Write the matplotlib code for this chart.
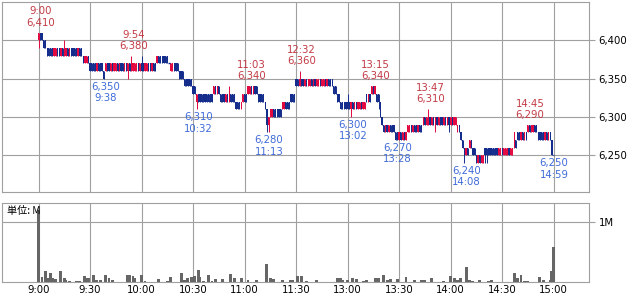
import matplotlib
matplotlib.use("Agg")
import matplotlib.pyplot as plt
import numpy as np

# ---------------- data (1-minute candles, 9:00-11:29 and 12:30-15:00) ----------------
morning_open = [
    6400, 6410, 6410, 6400, 6400, 6390, 6390, 6390, 6390, 6380,
    6380, 6390, 6390, 6380, 6390, 6380, 6380, 6390, 6380, 6390,
    6390, 6390, 6390, 6380, 6390, 6390, 6380, 6370, 6370, 6380,
    6370, 6370, 6370, 6370, 6360, 6370, 6370, 6370, 6360, 6360,
    6370, 6370, 6360, 6370, 6360, 6360, 6370, 6360, 6370, 6370,
    6360, 6370, 6360, 6370, 6360, 6360, 6360, 6360, 6370, 6360,
    6370, 6370, 6360, 6360, 6370, 6370, 6360, 6370, 6370, 6370,
    6380, 6380, 6380, 6380, 6380, 6380, 6370, 6360, 6360, 6370,
    6370, 6370, 6360, 6360, 6360, 6350, 6350, 6350, 6350, 6350,
    6340, 6340, 6320, 6330, 6330, 6330, 6330, 6330, 6330, 6330,
    6330, 6330, 6330, 6340, 6330, 6340, 6330, 6330, 6330, 6320,
    6330, 6320, 6330, 6330, 6330, 6320, 6320, 6320, 6310, 6320,
    6330, 6330, 6330, 6330, 6340, 6330, 6340, 6340, 6330, 6330,
    6330, 6330, 6320, 6310, 6290, 6300, 6300, 6310, 6310, 6310,
    6310, 6310, 6310, 6310, 6320, 6320, 6320, 6330, 6330, 6330,
]
morning_close = [
    6410, 6400, 6400, 6390, 6390, 6380, 6380, 6380, 6380, 6390,
    6390, 6380, 6380, 6390, 6380, 6390, 6390, 6380, 6390, 6380,
    6380, 6380, 6380, 6390, 6380, 6380, 6370, 6380, 6380, 6370,
    6360, 6360, 6360, 6360, 6370, 6360, 6360, 6360, 6350, 6370,
    6360, 6360, 6370, 6360, 6370, 6370, 6360, 6370, 6360, 6360,
    6370, 6360, 6370, 6360, 6370, 6370, 6370, 6370, 6360, 6370,
    6360, 6360, 6370, 6370, 6360, 6360, 6370, 6360, 6360, 6380,
    6370, 6370, 6370, 6370, 6370, 6370, 6370, 6370, 6370, 6360,
    6360, 6360, 6350, 6350, 6350, 6340, 6340, 6340, 6340, 6340,
    6330, 6330, 6330, 6320, 6320, 6320, 6320, 6320, 6320, 6320,
    6320, 6320, 6340, 6330, 6340, 6330, 6320, 6320, 6320, 6330,
    6320, 6330, 6320, 6320, 6320, 6310, 6310, 6310, 6320, 6330,
    6320, 6320, 6340, 6340, 6330, 6340, 6330, 6330, 6320, 6320,
    6320, 6320, 6310, 6290, 6300, 6310, 6310, 6300, 6300, 6300,
    6300, 6300, 6320, 6320, 6310, 6310, 6310, 6320, 6320, 6320,
]
afternoon_open = [
    6350, 6350, 6340, 6350, 6350, 6340, 6350, 6340, 6340, 6350,
    6340, 6350, 6340, 6340, 6350, 6340, 6340, 6350, 6340, 6350,
    6350, 6350, 6340, 6340, 6330, 6330, 6320, 6320, 6320, 6320,
    6320, 6320, 6310, 6320, 6310, 6320, 6310, 6310, 6320, 6310,
    6310, 6330, 6320, 6330, 6330, 6340, 6330, 6330, 6330, 6320,
    6300, 6290, 6280, 6290, 6280, 6290, 6290, 6290, 6280, 6280,
    6270, 6280, 6270, 6280, 6270, 6280, 6280, 6290, 6280, 6290,
    6290, 6280, 6290, 6290, 6290, 6300, 6290, 6290, 6300, 6290,
    6300, 6290, 6300, 6290, 6300, 6300, 6290, 6300, 6290, 6300,
    6290, 6300, 6290, 6290, 6280, 6290, 6280, 6270, 6260, 6250,
    6260, 6260, 6270, 6260, 6260, 6250, 6240, 6250, 6240, 6240,
    6260, 6260, 6260, 6260, 6260, 6260, 6260, 6260, 6250, 6250,
    6260, 6250, 6250, 6250, 6260, 6250, 6250, 6260, 6270, 6280,
    6280, 6270, 6280, 6270, 6280, 6280, 6290, 6280, 6280, 6290,
    6290, 6280, 6280, 6280, 6280, 6270, 6280, 6270, 6280, 6270, 6250,
]
afternoon_close = [
    6340, 6340, 6350, 6340, 6340, 6350, 6340, 6350, 6350, 6340,
    6350, 6340, 6350, 6350, 6340, 6350, 6350, 6340, 6350, 6340,
    6340, 6340, 6330, 6330, 6320, 6320, 6310, 6310, 6310, 6310,
    6310, 6310, 6320, 6310, 6320, 6310, 6320, 6320, 6310, 6320,
    6320, 6320, 6330, 6320, 6340, 6330, 6340, 6320, 6320, 6300,
    6290, 6280, 6290, 6280, 6290, 6280, 6280, 6280, 6270, 6270,
    6280, 6270, 6280, 6270, 6280, 6290, 6290, 6280, 6290, 6280,
    6280, 6290, 6280, 6280, 6300, 6290, 6300, 6300, 6290, 6300,
    6290, 6300, 6290, 6300, 6290, 6290, 6300, 6290, 6300, 6290,
    6300, 6290, 6300, 6300, 6290, 6280, 6270, 6260, 6250, 6260,
    6250, 6270, 6260, 6250, 6250, 6240, 6250, 6240, 6250, 6250,
    6250, 6250, 6250, 6250, 6250, 6250, 6250, 6250, 6260, 6260,
    6250, 6260, 6260, 6260, 6250, 6260, 6260, 6280, 6260, 6270,
    6270, 6280, 6270, 6280, 6270, 6290, 6280, 6290, 6290, 6280,
    6280, 6270, 6270, 6270, 6270, 6280, 6270, 6280, 6270, 6250, 6250,
]
# extra wick extremes (candle index -> price)
wick_high_idx = [0, 15, 54, 60, 111, 152, 180, 227, 285]
wick_high_val = [6410, 6400, 6380, 6380, 6340, 6360, 6330, 6310, 6290]
wick_low_idx = [0, 38, 52, 92, 133, 134, 182, 198, 208, 231, 239, 248, 260, 261]
wick_low_val = [6390, 6350, 6350, 6310, 6280, 6280, 6300, 6310, 6270, 6280, 6280, 6240, 6240, 6240]

# volume (millions of shares) at candle index
vol_idx = [0, 2, 4, 5, 7, 8, 10, 13, 15, 16, 18, 22, 24, 27, 28, 29, 32, 34, 36, 39,
           41, 43, 52, 53, 55, 56, 60, 62, 70, 75, 77, 83, 85, 87, 89, 91, 93, 94, 96, 99,
           101, 103, 107, 112, 114, 118, 122, 127, 133, 135, 137, 142, 147, 148, 151, 153, 156, 162, 174, 176,
           177, 180, 183, 185, 189, 191, 196, 198, 201, 203, 205, 209, 214, 219, 223, 225, 229, 236, 240, 242,
           244, 246, 249, 251, 253, 257, 262, 264, 277, 279, 281, 283, 285, 292, 294, 298, 299, 300]
vol_val = [1.20, 0.09, 0.19, 0.07, 0.16, 0.08, 0.05, 0.19, 0.07, 0.04, 0.02, 0.02, 0.02, 0.10, 0.07, 0.08, 0.12, 0.04, 0.04, 0.12,
           0.08, 0.04, 0.12, 0.12, 0.10, 0.08, 0.12, 0.02, 0.06, 0.03, 0.09, 0.16, 0.04, 0.08, 0.09, 0.11, 0.20, 0.09, 0.02, 0.12,
           0.02, 0.05, 0.05, 0.14, 0.07, 0.08, 0.04, 0.04, 0.31, 0.07, 0.06, 0.04, 0.04, 0.04, 0.11, 0.11, 0.03, 0.04, 0.08, 0.08,
           0.04, 0.04, 0.07, 0.05, 0.02, 0.04, 0.07, 0.08, 0.12, 0.04, 0.05, 0.06, 0.09, 0.04, 0.04, 0.04, 0.08, 0.02, 0.10, 0.07,
           0.04, 0.08, 0.26, 0.04, 0.03, 0.04, 0.03, 0.04, 0.15, 0.08, 0.12, 0.02, 0.02, 0.09, 0.04, 0.04, 0.19, 0.59]

high_labels = [("9:00", 0, 6410), ("9:54", 54, 6380), ("11:03", 123, 6340), ("12:32", 152, 6360),
               ("13:15", 195, 6340), ("13:47", 227, 6310), ("14:45", 285, 6290)]
low_labels = [("9:38", 38, 6350), ("10:32", 92, 6310), ("11:13", 133, 6280), ("13:02", 182, 6300),
              ("13:28", 208, 6270), ("14:08", 248, 6240), ("14:59", 299, 6250)]

xtick_pos = [0, 30, 60, 90, 120, 150, 180, 210, 240, 270, 300]
xtick_labels = ["9:00", "9:30", "10:00", "10:30", "11:00", "11:30", "13:00", "13:30", "14:00", "14:30", "15:00"]
price_ticks = [6250, 6300, 6350, 6400]
vol_ticks = [1.0]
vol_tick_labels = ["1M"]
unit_text = "単位: M"

# ---------------- style ----------------
RED = "#e3083f"
NAVY = "#142d8c"
RED_TXT = "#c23a44"
BLUE_TXT = "#3f6bd8"
GRID = "#a0a0a0"
FS = 7.3

W, H = 634, 297
fig = plt.figure(figsize=(W / 100, H / 100), dpi=100)
fig.patch.set_facecolor("white")

def px_axes(x0, y0, x1, y1):
    return fig.add_axes([x0 / W, 1 - y1 / H, (x1 - x0) / W, (y1 - y0) / H])

ax1 = px_axes(2, 2, 589, 192.3)
ax2 = px_axes(2, 203.3, 589, 282.3)

o = np.array(morning_open + afternoon_open, dtype=float)
c = np.array(morning_close + afternoon_close, dtype=float)
x = np.arange(len(o))
hi = np.maximum(o, c)
lo = np.minimum(o, c)
hi[wick_high_idx] = np.maximum(hi[wick_high_idx], wick_high_val)
lo[wick_low_idx] = np.minimum(lo[wick_low_idx], wick_low_val)

up = c > o
dn = c < o
dj = c == o
cols = np.where(up, RED, NAVY)

for ax in (ax1, ax2):
    ax.set_xlim(-21.3, 320.6)
    ax.set_xticks(xtick_pos)
    ax.grid(True, axis="x", color=GRID, lw=0.8)
    ax.set_axisbelow(True)
    for s in ax.spines.values():
        s.set_color(GRID)
        s.set_linewidth(0.8)
    ax.tick_params(axis="x", length=0, labelsize=FS, pad=2)
    ax.yaxis.tick_right()
    ax.tick_params(axis="y", length=4.5, color=GRID, labelsize=FS, pad=2.5, width=0.8)

# price panel
ax1.set_ylim(6202, 6450)
ax1.set_yticks(price_ticks)
ax1.set_yticklabels([f"{v:,}" for v in price_ticks])
ax1.grid(True, axis="y", color=GRID, lw=0.8)
ax1.tick_params(axis="x", labelbottom=False)

ax1.vlines(x, lo, hi, colors=cols, lw=0.7, zorder=3)
ax1.bar(x[up], (c - o)[up], bottom=o[up], width=0.72, color=RED, lw=0, zorder=4)
ax1.bar(x[dn], (c - o)[dn], bottom=o[dn], width=0.72, color=NAVY, lw=0, zorder=4)
ax1.hlines(c[dj], x[dj] - 0.45, x[dj] + 0.45, colors=NAVY, lw=1.0, zorder=4)

for t_lbl, i, p in high_labels:
    ax1.annotate(f"{t_lbl}\n{p:,}", xy=(i, p), xytext=(2, 5), textcoords="offset pixels",
                 ha="center", va="bottom", color=RED_TXT, fontsize=FS, linespacing=1.15,
                 annotation_clip=False)
for t_lbl, i, p in low_labels:
    ax1.annotate(f"{p:,}\n{t_lbl}", xy=(i, p), xytext=(2, -3), textcoords="offset pixels",
                 ha="center", va="top", color=BLUE_TXT, fontsize=FS, linespacing=1.15,
                 annotation_clip=False)

# volume panel
ax2.set_ylim(0, 1.317)
ax2.set_yticks(vol_ticks)
ax2.set_yticklabels(vol_tick_labels)
ax2.grid(True, axis="y", color=GRID, lw=0.8)
ax2.bar(vol_idx, vol_val, width=1.7, color="#666666", lw=0, zorder=3)
ax2.set_xticklabels(xtick_labels)
ax2.text(0.0085, 0.9, unit_text, transform=ax2.transAxes, ha="left", va="center",
         fontsize=FS, color="black", family=["Noto Sans CJK JP", "DejaVu Sans"], zorder=5)

fig.savefig("out.png", dpi=100, facecolor="white")
